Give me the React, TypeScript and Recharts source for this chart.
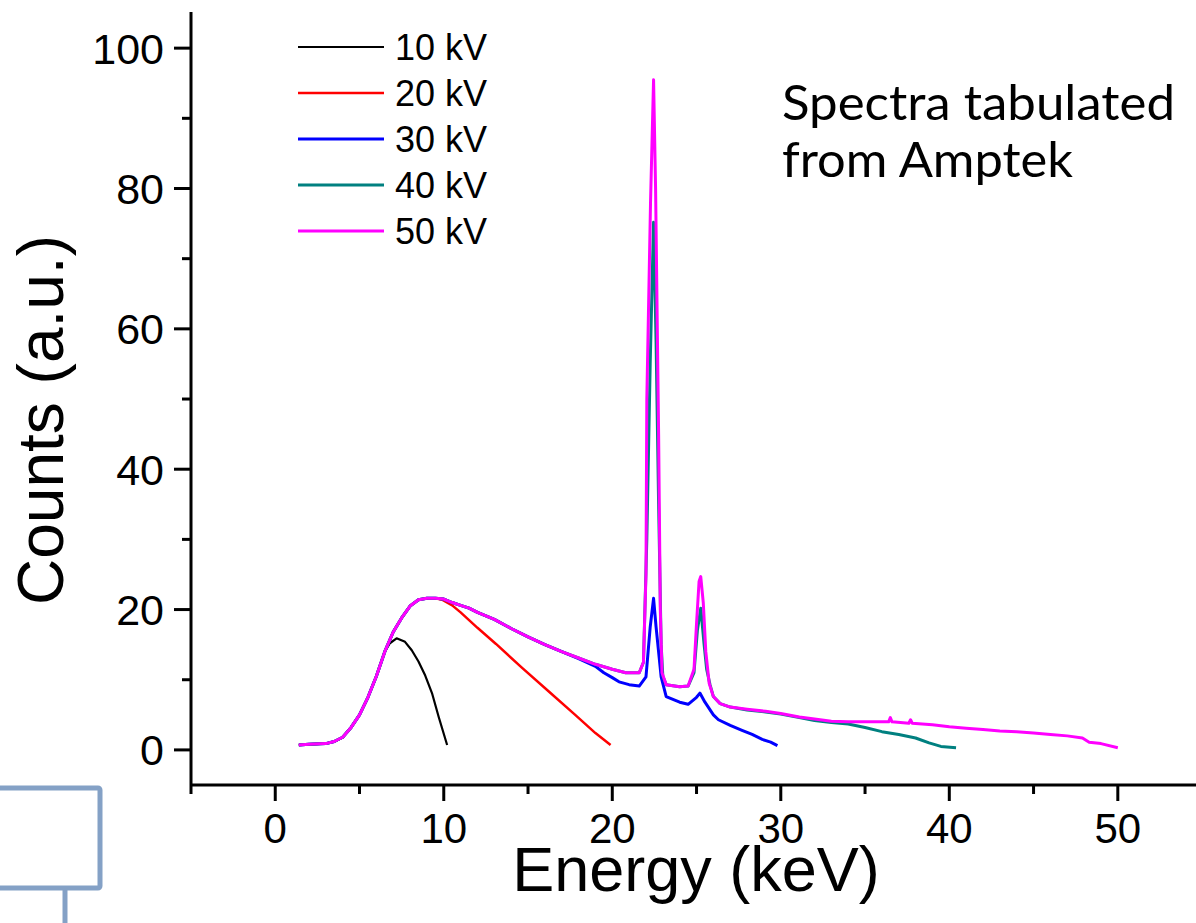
import React from 'react';
import { LineChart, Line, XAxis, YAxis, Legend } from 'recharts';

// ---------- data ----------
const seriesNames = ['10 kV', '20 kV', '30 kV', '40 kV', '50 kV'];
const seriesColors = ['#000000', '#ff0000', '#0000ff', '#008080', '#ff00ff'];
const seriesWidths = [2.2, 2.5, 3, 3, 3];

const xTicks = [-5, 0, 5, 10, 15, 20, 25, 30, 35, 40, 45, 50];
const xMajor = [0, 10, 20, 30, 40, 50];
const yTicks = [0, 10, 20, 30, 40, 50, 60, 70, 80, 90, 100];
const yMajor = [0, 20, 40, 60, 80, 100];

const energy10 = [1.4, 2, 3, 3.5, 4, 4.5, 5, 5.5, 6, 6.5, 6.8, 7.2, 7.7, 8.1, 8.5, 8.9, 9.3, 9.7, 10.2];
const counts10 = [0.7, 0.8, 0.9, 1.2, 1.8, 3.2, 5.0, 7.5, 10.5, 14.0, 15.2, 15.9, 15.4, 14.2, 12.6, 10.6, 8.1, 4.7, 0.7];

const energy20 = [1.4, 2, 3, 3.5, 4, 4.5, 5, 5.5, 6, 6.5, 7, 7.5, 8, 8.5, 9, 9.5, 9.9, 10.5, 11, 11.5, 12, 13.1, 14.6, 16.2, 17.8, 19.0, 19.9];
const counts20 = [0.7, 0.8, 0.9, 1.2, 1.8, 3.2, 5.0, 7.5, 10.5, 14.0, 16.8, 18.8, 20.5, 21.4, 21.6, 21.6, 21.4, 20.6, 19.6, 18.5, 17.4, 15.1, 11.8, 8.4, 5.0, 2.4, 0.7];

const energy30 = [1.4, 2, 3, 3.5, 4, 4.5, 5, 5.5, 6, 6.5, 7, 7.5, 8, 8.5, 9, 9.5, 10, 10.5, 11, 11.5, 12, 13, 14, 15, 16, 17, 18, 19, 19.5, 20, 20.4, 21, 21.6, 22.0, 22.25, 22.45, 22.6, 22.9, 23.2, 24.0, 24.5, 25.0, 25.2, 25.5, 26.0, 26.3, 27.0, 27.7, 28.3, 28.9, 29.4, 29.8];
const counts30 = [0.7, 0.8, 0.9, 1.2, 1.8, 3.2, 5.0, 7.5, 10.5, 14.0, 16.8, 18.8, 20.5, 21.4, 21.6, 21.6, 21.5, 21.0, 20.6, 20.2, 19.6, 18.6, 17.3, 16.1, 15.0, 14.0, 13.0, 11.9, 11.0, 10.3, 9.7, 9.3, 9.1, 10.4, 17.5, 21.6, 17.5, 10.4, 7.6, 6.8, 6.5, 7.5, 8.1, 6.8, 5.0, 4.3, 3.5, 2.8, 2.2, 1.5, 1.1, 0.6];

const energy40 = [1.4, 2, 3, 3.5, 4, 4.5, 5, 5.5, 6, 6.5, 7, 7.5, 8, 8.5, 9, 9.5, 10, 10.5, 11, 11.5, 12, 13, 14, 15, 16, 17, 18, 19, 20, 20.8, 21.6, 21.85, 22.05, 22.25, 22.45, 22.6, 22.75, 22.9, 23.0, 23.2, 24.0, 24.5, 24.85, 25.05, 25.25, 25.45, 25.6, 25.8, 26.0, 26.4, 27.0, 28.0, 29.1, 30, 31.1, 32, 33, 34, 35, 36, 37, 38, 38.8, 39.5, 40.4];
const counts40 = [0.7, 0.8, 0.9, 1.2, 1.8, 3.2, 5.0, 7.5, 10.5, 14.0, 16.8, 18.8, 20.5, 21.4, 21.6, 21.6, 21.5, 21.0, 20.6, 20.2, 19.6, 18.6, 17.3, 16.1, 15.0, 14.0, 13.1, 12.2, 11.5, 11.0, 11.0, 12.5, 30, 55, 75.2, 58, 35, 15, 10.5, 9.3, 9.0, 9.1, 11, 17, 20.2, 15, 11.5, 9.3, 7.6, 6.6, 6.1, 5.7, 5.4, 5.1, 4.6, 4.2, 3.9, 3.7, 3.2, 2.6, 2.2, 1.7, 1.0, 0.5, 0.3];

const energy50 = [1.4, 2, 3, 3.5, 4, 4.5, 5, 5.5, 6, 6.5, 7, 7.5, 8, 8.5, 9, 9.5, 10, 10.5, 11, 11.5, 12, 13, 14, 15, 16, 17, 18, 19, 20, 20.8, 21.6, 21.85, 22.0, 22.05, 22.27, 22.45, 22.57, 22.75, 22.85, 22.95, 23.2, 24.0, 24.5, 24.85, 25.0, 25.15, 25.25, 25.4, 25.55, 25.75, 26.0, 26.4, 27.0, 28, 29.1, 30, 31.1, 32, 33, 34, 35, 36.4, 36.5, 36.6, 37.6, 37.7, 37.8, 39, 40, 41, 42, 43, 44, 45, 46, 47, 47.9, 48.3, 49, 50];
const counts50 = [0.7, 0.8, 0.9, 1.2, 1.8, 3.2, 5.0, 7.5, 10.5, 14.0, 16.8, 18.8, 20.5, 21.4, 21.6, 21.6, 21.5, 21.0, 20.6, 20.2, 19.6, 18.6, 17.3, 16.1, 15.0, 14.0, 13.1, 12.2, 11.5, 11.0, 11.0, 12.5, 25, 50, 78, 95.5, 80, 45, 20, 11, 9.3, 9.0, 9.1, 11.5, 18, 24, 24.7, 21, 14, 9.5, 7.6, 6.6, 6.1, 5.8, 5.5, 5.2, 4.7, 4.4, 4.1, 4.0, 4.0, 4.0, 4.6, 4.0, 3.8, 4.3, 3.8, 3.6, 3.3, 3.1, 2.9, 2.7, 2.6, 2.4, 2.2, 2.0, 1.7, 1.1, 0.9, 0.3];

const annotationLines = ['Spectra tabulated', 'from Amptek'];
const xTitle = 'Energy (keV)';
const yTitle = 'Counts (a.u.)';

const zip = (xs: number[], ys: number[]) => xs.map((x, i) => ({ x, y: ys[i] }));
const seriesData = [
  zip(energy10, counts10),
  zip(energy20, counts20),
  zip(energy30, counts30),
  zip(energy40, counts40),
  zip(energy50, counts50),
];

const FONT = '"Liberation Sans", Arial, sans-serif';

const YTick = (props: any) => {
  const { x, y, payload } = props;
  const v = payload.value;
  const major = yMajor.includes(v);
  return (
    <g>
      <line x1={x - (major ? 17 : 9)} x2={x} y1={y} y2={y} stroke="#000" strokeWidth={3} />
      {major && (
        <text x={x - 27} y={y + 15.5} textAnchor="end" fontSize={43} fontFamily={FONT} fill="#000">
          {v}
        </text>
      )}
    </g>
  );
};

const XTick = (props: any) => {
  const { x, y, payload } = props;
  const v = payload.value;
  const major = xMajor.includes(v);
  return (
    <g>
      <line x1={x} x2={x} y1={y} y2={y + (major ? 16 : 9)} stroke="#000" strokeWidth={3} />
      {major && (
        <text x={x} y={y + 58} textAnchor="middle" fontSize={42} fontFamily={FONT} fill="#000">
          {v}
        </text>
      )}
    </g>
  );
};

const LegendContent = () => (
  <svg width={230} height={240} style={{ overflow: 'visible' }}>
    {seriesNames.map((n, i) => (
      <g key={n}>
        <line x1={8} x2={94} y1={27 + i * 46} y2={27 + i * 46} stroke={seriesColors[i]} strokeWidth={seriesWidths[i]} />
        <text x={105} y={39.5 + i * 46} fontSize={36} fontFamily={FONT} fill="#000">
          {n}
        </text>
      </g>
    ))}
  </svg>
);

const XTitle = (props: any) => {
  const { viewBox } = props;
  return (
    <text x={696} y={viewBox.y + 106} textAnchor="middle" fontSize={63} fontFamily={FONT} fill="#000">
      {xTitle}
    </text>
  );
};

const YTitle = () => {
  const cy = 420;
  const cx = 63;
  return (
    <text x={cx} y={cy} transform={`rotate(-90 ${cx} ${cy})`} textAnchor="middle" fontSize={64} fontFamily={FONT} fill="#000">
      {yTitle}
    </text>
  );
};

export default function App() {
  return (
    <div style={{ position: 'absolute', left: 0, top: 0, width: 1196, height: 923, background: '#fff' }}>
      <LineChart width={1196} height={923} margin={{ top: 12, right: 0, bottom: 0, left: 0 }}>
        <XAxis
          type="number"
          dataKey="x"
          domain={[-5, 54.64]}
          allowDataOverflow
          ticks={xTicks}
          interval={0}
          tickSize={0}
          tickMargin={0}
          tick={<XTick />}
          tickLine={false}
          axisLine={{ stroke: '#000', strokeWidth: 3 }}
          height={138}
          label={<XTitle />}
        />
        <YAxis
          type="number"
          dataKey="y"
          domain={[-5, 105.15]}
          allowDataOverflow
          ticks={yTicks}
          interval={0}
          tickSize={0}
          tickMargin={0}
          tick={<YTick />}
          tickLine={false}
          axisLine={{ stroke: '#000', strokeWidth: 3 }}
          width={191}
          label={<YTitle />}
        />
        <Legend
          layout="vertical"
          align="center"
          verticalAlign="middle"
          content={<LegendContent />}
          wrapperStyle={{ position: 'absolute', left: 290, top: 20, width: 230, height: 240 }}
        />
        {seriesData.map((d, i) => (
          <Line
            key={seriesNames[i]}
            data={d}
            dataKey="y"
            name={seriesNames[i]}
            type="linear"
            stroke={seriesColors[i]}
            strokeWidth={seriesWidths[i]}
            dot={false}
            activeDot={false}
            isAnimationActive={false}
            strokeLinejoin="round"
          />
        ))}
      </LineChart>
      <svg width={1196} height={923} style={{ position: 'absolute', left: 0, top: 0, pointerEvents: 'none' }}>
        <text x={782} y={120} fontSize={48} fontFamily="Lato, 'Open Sans', sans-serif" fill="#000" textLength={393} lengthAdjust="spacingAndGlyphs">
          {annotationLines[0]}
        </text>
        <text x={782} y={177} fontSize={48} fontFamily="Lato, 'Open Sans', sans-serif" fill="#000" textLength={291} lengthAdjust="spacingAndGlyphs">
          {annotationLines[1]}
        </text>
        <rect x={-3} y={788} width={103} height={100} fill="none" stroke="#84a1c6" strokeWidth={5} rx={2} />
        <line x1={65} x2={65} y1={888} y2={930} stroke="#84a1c6" strokeWidth={5} />
      </svg>
    </div>
  );
}
